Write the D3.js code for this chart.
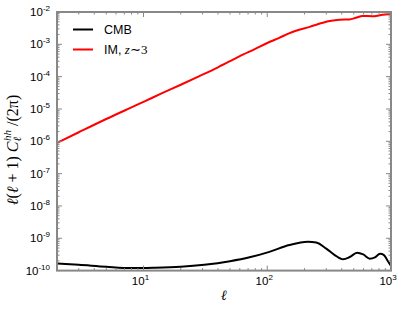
<!DOCTYPE html>
<html><head><meta charset="utf-8">
<script src="https://cdn.jsdelivr.net/npm/d3@7"></script>
<style>body{margin:0;background:#fff}svg{display:block}</style>
</head><body>
<svg id="c" width="407" height="309"></svg>
<script>
// data (log10 of values)
const imEll = [2, 3, 5, 8, 10, 14, 20, 28, 40, 59, 80, 100, 125, 150, 220, 320, 385, 460, 520, 590, 710, 815, 950, 1000];
const imLog = [-6.05, -5.72, -5.31, -4.95, -4.78, -4.52, -4.25, -3.99, -3.71, -3.38, -3.14, -2.96, -2.80, -2.66, -2.46, -2.28, -2.24, -2.23, -2.18, -2.12, -2.13, -2.10, -2.07, -2.07];
const cmbEll = [2, 3, 5, 8, 12, 20, 31, 50, 72, 104, 151, 213, 249, 300, 351, 410, 464, 532, 596, 675, 741, 815, 878, 934, 1000];
const cmbLog = [-9.78, -9.82, -9.88, -9.92, -9.91, -9.88, -9.82, -9.71, -9.59, -9.42, -9.21, -9.11, -9.13, -9.32, -9.52, -9.65, -9.58, -9.45, -9.50, -9.63, -9.59, -9.48, -9.52, -9.68, -9.86];
const xTickExps = [1, 2, 3];
const yTickExps = [-10, -9, -8, -7, -6, -5, -4, -3, -2];
const legendLabels = ["CMB", "IM"];

const svg = d3.select("#c");
const L = 57, R = 391, T = 12, B = 270.6;
const x = d3.scaleLog().domain([2, 1000]).range([L, R]);
const y = d3.scaleLog().domain([1e-10, 1e-2]).range([B, T]);
const frame = "#888";

const line = d3.line().x(d => x(d[0])).y(d => y(d[1])).curve(d3.curveMonotoneX);
const imData = imEll.map((e, i) => [e, Math.pow(10, imLog[i])]);
const cmbData = cmbEll.map((e, i) => [e, Math.pow(10, cmbLog[i])]);

svg.append("clipPath").attr("id", "cp").append("rect")
  .attr("x", L).attr("y", T).attr("width", R - L).attr("height", B - T);

svg.append("path").datum(cmbData).attr("d", line).attr("fill", "none")
  .attr("stroke", "#000").attr("stroke-width", 2).attr("clip-path", "url(#cp)");
svg.append("path").datum(imData).attr("d", line).attr("fill", "none")
  .attr("stroke", "#ff0000").attr("stroke-width", 2).attr("clip-path", "url(#cp)");

// ticks (inside, all four sides)
const g = svg.append("g").attr("stroke", frame).attr("stroke-width", 1);
const xMinor = [], xMajor = [];
for (let d = 0; d <= 3; d++) for (let k = 1; k <= 9; k++) {
  const v = k * Math.pow(10, d);
  if (v < 2 || v > 1000) continue;
  (k === 1 ? xMajor : xMinor).push(v);
}
const yMinor = [], yMajor = [];
for (let d = -10; d <= -2; d++) for (let k = 1; k <= 9; k++) {
  const v = k * Math.pow(10, d);
  if (v > 1.0001e-2) continue;
  (k === 1 ? yMajor : yMinor).push(v);
}
xMajor.forEach(v => {
  g.append("line").attr("x1", x(v)).attr("x2", x(v)).attr("y1", B).attr("y2", B - 5);
  g.append("line").attr("x1", x(v)).attr("x2", x(v)).attr("y1", T).attr("y2", T + 5);
});
xMinor.forEach(v => {
  g.append("line").attr("x1", x(v)).attr("x2", x(v)).attr("y1", B).attr("y2", B - 2.5);
  g.append("line").attr("x1", x(v)).attr("x2", x(v)).attr("y1", T).attr("y2", T + 2.5);
});
yMajor.forEach(v => {
  g.append("line").attr("x1", L).attr("x2", L + 5).attr("y1", y(v)).attr("y2", y(v));
  g.append("line").attr("x1", R).attr("x2", R - 5).attr("y1", y(v)).attr("y2", y(v));
});
yMinor.forEach(v => {
  g.append("line").attr("x1", L).attr("x2", L + 2.5).attr("y1", y(v)).attr("y2", y(v));
  g.append("line").attr("x1", R).attr("x2", R - 2.5).attr("y1", y(v)).attr("y2", y(v));
});

svg.append("rect").attr("x", L).attr("y", T).attr("width", R - L).attr("height", B - T)
  .attr("fill", "none").attr("stroke", frame).attr("stroke-width", 2);

// tick labels
const font = "Liberation Sans, Arial, sans-serif";
xTickExps.forEach(e => {
  const t = svg.append("text").attr("x", x(Math.pow(10, e)) - 3).attr("y", 285)
    .attr("font-family", font).attr("font-size", 11.5).attr("text-anchor", "middle").attr("fill", "#000");
  t.append("tspan").text("10");
  t.append("tspan").attr("dy", -5).attr("font-size", 8).text(e);
});
yTickExps.forEach(e => {
  const t = svg.append("text").attr("x", 50).attr("y", y(Math.pow(10, e)) + 4)
    .attr("font-family", font).attr("font-size", 11.5).attr("text-anchor", "end").attr("fill", "#000");
  t.append("tspan").text("10");
  t.append("tspan").attr("dy", -5).attr("font-size", 8).text(e);
});

// axis labels
const serif = "Liberation Serif, Times New Roman, serif";
svg.append("text").attr("x", 224).attr("y", 300).attr("font-family", serif)
  .attr("font-style", "italic").attr("font-size", 14).attr("text-anchor", "middle").text("ℓ");

const yl = svg.append("text").attr("transform", "translate(18,150) rotate(-90)")
  .attr("font-family", serif).attr("font-size", 16).attr("text-anchor", "middle");
yl.append("tspan").attr("font-style", "italic").text("ℓ");
yl.append("tspan").text("(");
yl.append("tspan").attr("font-style", "italic").text("ℓ");
yl.append("tspan").text(" + 1)  ");
yl.append("tspan").attr("font-style", "italic").text("C");
yl.append("tspan").attr("font-style", "italic").attr("font-size", 11).attr("dy", 3).text("ℓ");
yl.append("tspan").attr("font-style", "italic").attr("font-size", 11).attr("dx", -4).attr("dy", -10).text("hh");
yl.append("tspan").attr("dy", 7).text("  /(2π)");

// legend
svg.append("line").attr("x1", 73).attr("x2", 93).attr("y1", 29.5).attr("y2", 29.5)
  .attr("stroke", "#000").attr("stroke-width", 2);
svg.append("line").attr("x1", 73).attr("x2", 93).attr("y1", 49.5).attr("y2", 49.5)
  .attr("stroke", "#ff0000").attr("stroke-width", 2);
svg.append("text").attr("x", 104).attr("y", 34).attr("font-family", font).attr("font-size", 12.5).text(legendLabels[0]);
const l2 = svg.append("text").attr("x", 104).attr("y", 54).attr("font-family", font).attr("font-size", 12.5);
l2.append("tspan").text(legendLabels[1] + ", ");
l2.append("tspan").attr("font-family", serif).attr("font-style", "italic").attr("font-size", 13).text("z");
l2.append("tspan").attr("font-family", serif).attr("font-size", 13).text("∼3");
</script>
</body></html>
